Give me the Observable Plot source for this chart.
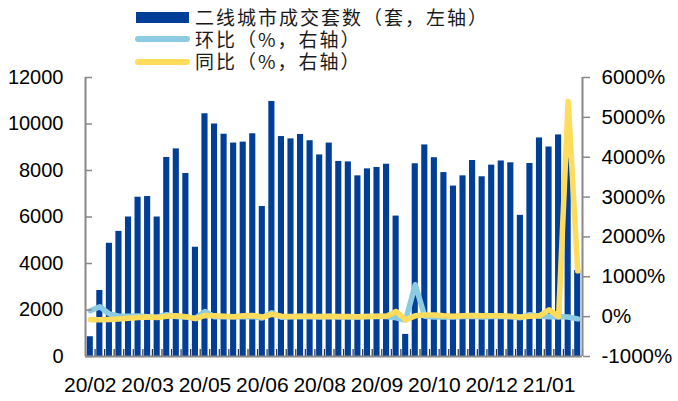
<!DOCTYPE html>
<html>
<head>
<meta charset="utf-8">
<script src="https://cdn.jsdelivr.net/npm/d3@7"></script>
<script src="https://cdn.jsdelivr.net/npm/@observablehq/plot@0.6"></script>
<style>
  html, body { margin: 0; padding: 0; background: #ffffff; }
  #wrap { position: relative; width: 678px; height: 401px; overflow: hidden; }
  #chart { position: absolute; left: 0; top: 0; }
  .leg-text { position: absolute; left: 195px; font-family: "Noto Sans CJK SC", sans-serif; font-size: 19px; line-height: 20px; letter-spacing: 2px; color: #1a1a1a; white-space: nowrap; }
  .sw { position: absolute; }
</style>
</head>
<body>
<div id="wrap">
  <div id="chart"></div>
  <div class="sw" style="left:136px;top:12px;width:53px;height:11px;background:#003e98;"></div>
  <div class="leg-text" style="top:7px;" id="l1"></div>
  <div class="sw" style="left:135px;top:36px;width:55px;height:6px;border-radius:3px;background:#8ccbe4;"></div>
  <div class="leg-text" style="top:29px;" id="l2"></div>
  <div class="sw" style="left:135px;top:58.5px;width:55px;height:6px;border-radius:3px;background:#ffdc5c;"></div>
  <div class="leg-text" style="top:51px;" id="l3"></div>
</div>
<script>
// ---- data ----
const seriesNames = ["二线城市成交套数（套，左轴）", "环比（%，右轴）", "同比（%，右轴）"];
const weeks = d3.range(1, 53);
const volume = [850, 2840, 4870, 5380, 6000, 6850, 6880, 6000, 8560, 8930,
  7870, 4700, 10440, 10000, 9560, 9180, 9220, 9580, 6450, 10970,
  9460, 9360, 9550, 9280, 8670, 9180, 8390, 8370, 7770, 8070,
  8130, 8270, 6040, 950, 8290, 9100, 8550, 7910, 7330, 7770,
  8430, 7730, 8230, 8410, 8330, 6070, 8300, 9400, 9010, 9530,
  8550, 3700];
const mom = [150, 250, 70, 10, 12, 14, 0, -13, 50, 5,
  -12, -40, 130, -4, -4, -4, 0, 4, -33, 100,
  -14, -1, 2, -3, -7, 6, -9, 0, -7, 4,
  1, 2, -27, -84, 800, 10, -6, -7, -7, 6,
  8, -8, 6, 2, -1, -27, 50, 13, -4, 6,
  -10, -57];
const yoy = [-80, -78, -70, -60, -40, -20, -10, -20, 10, 20,
  0, -50, 30, 20, 10, 0, 20, 30, -10, 60,
  10, 5, 10, 10, 5, 10, 5, 5, 0, 5,
  10, 10, 130, -80, 20, 40, 40, 20, 10, 20,
  30, 20, 20, 20, 10, -10, 10, 20, 170, 0,
  5400, 1150];
const tickWeeks = [1, 7, 13, 19, 25, 31, 37, 43, 49];
const tickLabels = ["20/02", "20/03", "20/05", "20/06", "20/08", "20/09", "20/10", "20/12", "21/01"];
const leftTicks = [0, 2000, 4000, 6000, 8000, 10000, 12000];
const rightTicks = [-1000, 0, 1000, 2000, 3000, 4000, 5000, 6000];

// ---- layout ----
const W = 678, H = 401, mL = 85, mR = 96, mT = 77, mB = 45;
const step = (W - mL - mR) / weeks.length;
const innerH = H - mT - mB;
const yMax = 12000, rMin = -1000, rMax = 6000;
const toLeft = v => (v - rMin) * yMax / (rMax - rMin);
const fromLeft = v => Math.round(v * (rMax - rMin) / yMax + rMin);

const rows = weeks.map((w, i) => ({week: w, volume: volume[i], mom: mom[i], yoy: yoy[i]}));
const labelOf = new Map(tickWeeks.map((w, i) => [w, tickLabels[i]]));

document.getElementById("l1").textContent = seriesNames[0];
document.getElementById("l2").textContent = seriesNames[1];
document.getElementById("l3").textContent = seriesNames[2];

const chart = Plot.plot({
  width: W, height: H,
  marginLeft: mL, marginRight: mR, marginTop: mT, marginBottom: mB,
  style: "font-family: 'Liberation Sans', Arial, sans-serif; font-size: 20px; color: #000; background: transparent;",
  x: {type: "band", domain: weeks, paddingInner: 0.36, paddingOuter: 0.18, round: false, axis: null, label: null},
  y: {domain: [0, yMax], axis: null, label: null},
  marks: [
    Plot.barY(rows, {x: "week", y: "volume", fill: "#003e98"}),
    Plot.line(rows, {x: "week", y: d => toLeft(d.mom), stroke: "#8ccbe4", strokeWidth: 5.5, strokeLinejoin: "round", strokeLinecap: "round"}),
    Plot.line(rows, {x: "week", y: d => toLeft(d.yoy), stroke: "#ffdc5c", strokeWidth: 5.5, strokeLinejoin: "round", strokeLinecap: "round"}),
    // x tick marks between bars (inward)
    Plot.ruleX(weeks, {x: d => d, dx: step / 2, insetTop: innerH - 7, stroke: "#333", strokeWidth: 1.2}),
    // left axis inward ticks
    Plot.ruleY(leftTicks, {y: d => d, insetRight: W - mL - mR - 7, stroke: "#888", strokeWidth: 1.5}),
    // axis lines
    Plot.ruleY([0], {stroke: "#888", strokeWidth: 2}),
    Plot.ruleX([weeks[0]], {x: d => d, dx: -step / 2, stroke: "#888", strokeWidth: 2}),
    Plot.ruleX([weeks[weeks.length - 1]], {x: d => d, dx: step / 2, stroke: "#888", strokeWidth: 2}),
    Plot.axisY(leftTicks, {anchor: "left", label: null, tickSize: 0, tickPadding: 22, fontSize: 20, fill: "#000", tickFormat: d => String(d)}),
    Plot.axisY(rightTicks.map(toLeft), {anchor: "right", label: null, tickSize: 7, tickPadding: 12, stroke: "#888", strokeWidth: 1.5, fontSize: 20.5, tickFormat: v => fromLeft(v) + "%"}),
    Plot.axisX(tickWeeks, {anchor: "bottom", label: null, tickSize: 0, tickPadding: 21, fontSize: 21, tickFormat: d => labelOf.get(d)})
  ]
});
document.getElementById("chart").appendChild(chart);
</script>
</body>
</html>
